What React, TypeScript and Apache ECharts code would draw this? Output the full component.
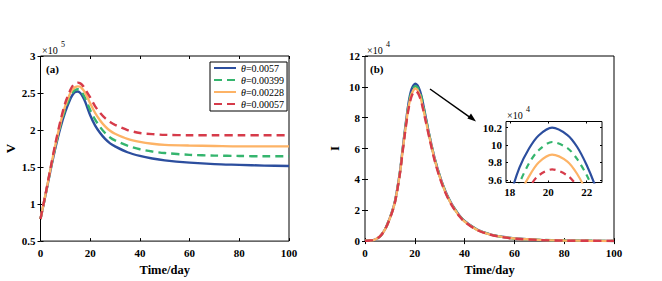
import React, { useEffect, useRef } from 'react';
import * as echarts from 'echarts';

const seriesNames = ['θ=0.0057', 'θ=0.00399', 'θ=0.00228', 'θ=0.00057'];
const colors = ['#2C4E9E', '#35B56E', '#FDB366', '#D63B4A'];
const dashed = [false, true, false, true];

// Panel (a): V (x 10^5)
const tV = [0, 2, 4, 6, 8, 10, 12, 13, 14, 15, 16, 17, 18, 20, 22, 24, 26, 28, 30, 35, 40, 45, 50, 60, 70, 80, 90, 100];
const vBlue = [0.8, 1.12, 1.45, 1.76, 2.03, 2.25, 2.42, 2.48, 2.515, 2.52, 2.5, 2.45, 2.38, 2.2, 2.06, 1.96, 1.88, 1.82, 1.78, 1.7, 1.65, 1.615, 1.59, 1.56, 1.54, 1.53, 1.52, 1.515];
const vGreen = [0.8, 1.12, 1.46, 1.78, 2.06, 2.29, 2.46, 2.51, 2.54, 2.55, 2.535, 2.49, 2.43, 2.27, 2.14, 2.04, 1.96, 1.9, 1.86, 1.79, 1.74, 1.71, 1.69, 1.665, 1.655, 1.65, 1.645, 1.645];
const vOrange = [0.8, 1.13, 1.47, 1.8, 2.09, 2.33, 2.5, 2.55, 2.58, 2.59, 2.585, 2.55, 2.5, 2.36, 2.23, 2.13, 2.05, 1.99, 1.95, 1.88, 1.84, 1.815, 1.8, 1.79, 1.785, 1.78, 1.78, 1.78];
const vRed = [0.8, 1.13, 1.48, 1.82, 2.12, 2.37, 2.54, 2.6, 2.63, 2.64, 2.63, 2.6, 2.55, 2.44, 2.32, 2.23, 2.16, 2.11, 2.07, 2.0, 1.96, 1.945, 1.935, 1.93, 1.93, 1.93, 1.93, 1.93];

// Panel (b): I (x 10^4)
const tI = [0, 2, 4, 6, 8, 10, 12, 14, 15, 16, 17, 17.5, 18, 18.5, 19, 19.5, 20.2, 21, 21.5, 22, 22.5, 23, 24, 26, 28, 30, 32, 34, 36, 38, 40, 45, 50, 55, 60, 70, 80, 90, 100];
const iBlue = [0.02, 0.04, 0.1, 0.3, 0.75, 1.5, 2.55, 4.45, 5.8, 7.15, 8.4, 8.95, 9.4, 9.74, 9.96, 10.11, 10.2, 10.115, 9.98, 9.77, 9.5, 9.17, 8.35, 6.75, 5.35, 4.25, 3.35, 2.65, 2.1, 1.65, 1.3, 0.75, 0.45, 0.28, 0.18, 0.08, 0.04, 0.02, 0.01];
const iGreen = [0.02, 0.04, 0.1, 0.3, 0.75, 1.5, 2.53, 4.42, 5.75, 7.08, 8.3, 8.82, 9.24, 9.56, 9.79, 9.94, 10.035, 9.965, 9.84, 9.655, 9.41, 9.1, 8.28, 6.72, 5.32, 4.22, 3.32, 2.62, 2.08, 1.63, 1.28, 0.74, 0.44, 0.27, 0.17, 0.08, 0.04, 0.02, 0.01];
const iOrange = [0.02, 0.04, 0.1, 0.3, 0.74, 1.48, 2.51, 4.38, 5.7, 7.0, 8.2, 8.7, 9.1, 9.42, 9.64, 9.8, 9.89, 9.81, 9.67, 9.46, 9.18, 8.86, 8.12, 6.65, 5.27, 4.18, 3.29, 2.6, 2.06, 1.61, 1.27, 0.73, 0.43, 0.27, 0.17, 0.08, 0.04, 0.02, 0.01];
const iRed = [0.02, 0.04, 0.1, 0.3, 0.74, 1.47, 2.49, 4.34, 5.64, 6.92, 8.1, 8.58, 8.98, 9.29, 9.51, 9.65, 9.72, 9.65, 9.53, 9.34, 9.08, 8.78, 8.05, 6.58, 5.2, 4.12, 3.24, 2.56, 2.03, 1.59, 1.25, 0.72, 0.43, 0.26, 0.16, 0.07, 0.03, 0.02, 0.01];

const insetXTicks = [18, 20, 22];
const insetYTicks = [9.6, 9.8, 10, 10.2];

const FONT = 'Liberation Serif, Times New Roman, serif';

const vData = [vBlue, vGreen, vOrange, vRed];
const iData = [iBlue, iGreen, iOrange, iRed];

function pairs(t: number[], v: number[]) {
  return t.map((x, k) => [x, v[k]]);
}

const labelStyle = { color: '#000', fontFamily: FONT, fontWeight: 'bold' as const, fontSize: 11 };

function mainAxisX(gridIndex: number, top: boolean) {
  return {
    type: 'value', gridIndex, min: 0, max: 100, interval: 20,
    position: top ? 'top' : 'bottom',
    axisLine: { show: false },
    axisTick: { show: true, inside: true, length: 3, lineStyle: { color: '#000', width: 1 } },
    axisLabel: top ? { show: false } : { ...labelStyle, margin: 6 },
    splitLine: { show: false },
    name: top ? '' : 'Time/day',
    nameLocation: 'middle', nameGap: 20,
    nameTextStyle: { color: '#000', fontFamily: FONT, fontWeight: 'bold', fontSize: 12.5 },
  };
}

function mainAxisY(gridIndex: number, right: boolean, min: number, max: number, interval: number, name: string) {
  return {
    type: 'value', gridIndex, min, max, interval,
    position: right ? 'right' : 'left',
    axisLine: { show: false },
    axisTick: { show: true, inside: true, length: 3, lineStyle: { color: '#000', width: 1 } },
    axisLabel: right ? { show: false } : { ...labelStyle, margin: 5 },
    splitLine: { show: false },
    name: right ? '' : name,
    nameLocation: 'middle', nameGap: 24, nameRotate: 90,
    nameTextStyle: { color: '#000', fontFamily: FONT, fontWeight: 'bold', fontSize: 13 },
  };
}

export default function App() {
  const ref = useRef<HTMLDivElement>(null);
  useEffect(() => {
    if (!ref.current) return;
    const chart = echarts.init(ref.current, undefined, { renderer: 'svg' });

    const series: any[] = [];
    seriesNames.forEach((name, k) => {
      const ls = { color: colors[k], width: 2.4, type: dashed[k] ? [8, 5] : 'solid' };
      series.push({ name, type: 'line', xAxisIndex: 0, yAxisIndex: 0, data: pairs(tV, vData[k]), showSymbol: false, symbol: 'none', smooth: 0.3, lineStyle: ls, itemStyle: { color: colors[k] }, z: 2 + k });
    });
    seriesNames.forEach((name, k) => {
      const ls = { color: colors[k], width: 2.4, type: dashed[k] ? [8, 5] : 'solid' };
      series.push({ name, type: 'line', xAxisIndex: 2, yAxisIndex: 2, data: pairs(tI, iData[k]), showSymbol: false, symbol: 'none', smooth: 0.3, lineStyle: ls, itemStyle: { color: colors[k] }, z: 2 + k });
    });
    seriesNames.forEach((name, k) => {
      const ls = { color: colors[k], width: 2.2, type: dashed[k] ? [6, 5] : 'solid' };
      series.push({ name, type: 'line', xAxisIndex: 4, yAxisIndex: 4, data: pairs(tI, iData[k]), showSymbol: false, symbol: 'none', smooth: 0.3, clip: true, lineStyle: ls, itemStyle: { color: colors[k] }, z: 12 + k });
    });

    const insetTick = { show: true, inside: true, length: 2, lineStyle: { color: '#000', width: 1 } };

    const option: any = {
      animation: false,
      backgroundColor: '#fff',
      grid: [
        { left: 40.5, top: 56, width: 248.5, height: 191, show: true, borderColor: '#000', borderWidth: 1, backgroundColor: 'transparent' },
        { left: 365, top: 56, width: 249, height: 191, show: true, borderColor: '#000', borderWidth: 1, backgroundColor: 'transparent' },
        { left: 506, top: 121.5, width: 96, height: 61, show: true, borderColor: '#000', borderWidth: 1, backgroundColor: '#fff', z: 10 },
      ],
      xAxis: [
        mainAxisX(0, false),
        mainAxisX(0, true),
        mainAxisX(1, false),
        mainAxisX(1, true),
        {
          type: 'value', gridIndex: 2, min: 17.8, max: 22.8, position: 'bottom',
          axisLine: { show: false },
          axisTick: { ...insetTick, customValues: insetXTicks },
          axisLabel: { ...labelStyle, margin: 4, customValues: insetXTicks },
          splitLine: { show: false }, z: 20,
        },
        {
          type: 'value', gridIndex: 2, min: 17.8, max: 22.8, position: 'top',
          axisLine: { show: false },
          axisTick: { ...insetTick, customValues: insetXTicks },
          axisLabel: { show: false, customValues: insetXTicks },
          splitLine: { show: false }, z: 20,
        },
      ],
      yAxis: [
        mainAxisY(0, false, 0.5, 3, 0.5, 'V'),
        mainAxisY(0, true, 0.5, 3, 0.5, ''),
        mainAxisY(1, false, 0, 12, 2, 'I'),
        mainAxisY(1, true, 0, 12, 2, ''),
        {
          type: 'value', gridIndex: 2, min: 9.57, max: 10.27, position: 'left',
          axisLine: { show: false },
          axisTick: { ...insetTick, customValues: insetYTicks },
          axisLabel: { ...labelStyle, margin: 4, customValues: insetYTicks },
          splitLine: { show: false }, z: 20,
        },
        {
          type: 'value', gridIndex: 2, min: 9.57, max: 10.27, position: 'right',
          axisLine: { show: false },
          axisTick: { ...insetTick, customValues: insetYTicks },
          axisLabel: { show: false, customValues: insetYTicks },
          splitLine: { show: false }, z: 20,
        },
      ],
      legend: {
        data: seriesNames,
        orient: 'vertical',
        left: 210, top: 62,
        padding: [0, 3, 1, 3],
        itemGap: 0,
        itemWidth: 22, itemHeight: 12,
        itemStyle: { opacity: 0 },
        borderColor: '#000', borderWidth: 1, borderRadius: 0,
        backgroundColor: '#fff',
        selectedMode: false,
        formatter: (name: string) => `{i|θ}{n|${name.slice(1)}}`,
        textStyle: {
          color: '#000', fontFamily: FONT, fontSize: 10, lineHeight: 12,
          rich: {
            i: { fontStyle: 'italic', fontFamily: FONT, fontSize: 10, color: '#000' },
            n: { fontFamily: FONT, fontSize: 10, color: '#000' },
          },
        },
      },
      graphic: [
        { type: 'text', left: 46, top: 63, style: { text: '(a)', font: `bold 11px ${FONT}`, fill: '#000' } },
        { type: 'text', left: 370, top: 63, style: { text: '(b)', font: `bold 11px ${FONT}`, fill: '#000' } },
        { type: 'text', left: 42, top: 45, style: { text: '×10', font: `10px ${FONT}`, fill: '#000' } },
        { type: 'text', left: 61, top: 40, style: { text: '5', font: `8px ${FONT}`, fill: '#000' } },
        { type: 'text', left: 367, top: 45, style: { text: '×10', font: `10px ${FONT}`, fill: '#000' } },
        { type: 'text', left: 386, top: 40, style: { text: '4', font: `8px ${FONT}`, fill: '#000' } },
        { type: 'text', left: 507, top: 110, z: 30, style: { text: '×10', font: `10px ${FONT}`, fill: '#000' } },
        { type: 'text', left: 526, top: 105, z: 30, style: { text: '4', font: `8px ${FONT}`, fill: '#000' } },
        { type: 'line', z: 30, shape: { x1: 430, y1: 89, x2: 470, y2: 117.4 }, style: { stroke: '#000', lineWidth: 1.5 } },
        { type: 'polygon', z: 30, shape: { points: [[476, 121.5], [467.4, 118.5], [471.0, 113.4]] }, style: { fill: '#000' } },
      ],
      series,
    };
    chart.setOption(option);
    return () => chart.dispose();
  }, []);
  return <div ref={ref} style={{ position: 'fixed', left: 0, top: 0, width: 662, height: 281, background: '#fff' }} />;
}
